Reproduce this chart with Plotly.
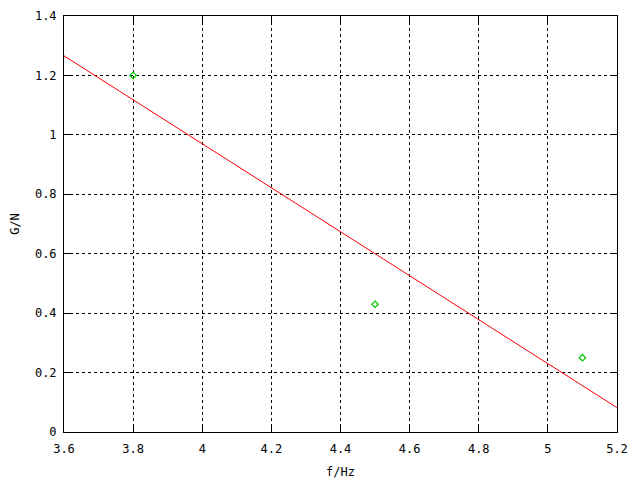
import plotly.graph_objects as go

# measured data points
freq_hz = [3.8, 4.5, 5.1]
g_over_n = [1.2, 0.43, 0.25]

# fitted line endpoints
fit_x = [3.6, 5.2]
fit_y = [1.266, 0.082]

x_ticks = [3.6, 3.8, 4.0, 4.2, 4.4, 4.6, 4.8, 5.0, 5.2]
x_tick_labels = ["3.6", "3.8", "4", "4.2", "4.4", "4.6", "4.8", "5", "5.2"]
y_ticks = [0, 0.2, 0.4, 0.6, 0.8, 1.0, 1.2, 1.4]
y_tick_labels = ["0", "0.2", "0.4", "0.6", "0.8", "1", "1.2", "1.4"]

font = dict(family="DejaVu Sans Mono, Liberation Mono, monospace", size=12, color="black")

fig = go.Figure()
fig.add_trace(go.Scatter(x=fit_x, y=fit_y, mode="lines",
                         line=dict(color="#ff0000", width=1), showlegend=False))
fig.add_trace(go.Scatter(x=freq_hz, y=g_over_n, mode="markers",
                         marker=dict(symbol="diamond-open", size=5, color="#00c800",
                                     line=dict(width=1.2, color="#00c800")),
                         showlegend=False))

axis_common = dict(
    showgrid=True, gridcolor="black", gridwidth=1, griddash="3px,3px",
    showline=True, linecolor="black", linewidth=1, mirror="allticks",
    ticks="inside", ticklen=6, tickcolor="black", zeroline=False,
    tickfont=font, automargin=False,
)

fig.update_xaxes(range=[3.6, 5.2], tickvals=x_ticks, ticktext=x_tick_labels,
                 ticklabelstandoff=6,
                 title=dict(text="f/Hz", font=font, standoff=12), **axis_common)
fig.update_yaxes(range=[0, 1.4], tickvals=y_ticks, ticktext=y_tick_labels,
                 ticklabelstandoff=4,
                 title=dict(text="G/N", font=font, standoff=15), **axis_common)

fig.update_layout(
    width=632, height=472,
    margin=dict(l=56, r=23, t=8, b=48),
    paper_bgcolor="white", plot_bgcolor="white",
    font=font,
)

fig.write_html("out.html")
